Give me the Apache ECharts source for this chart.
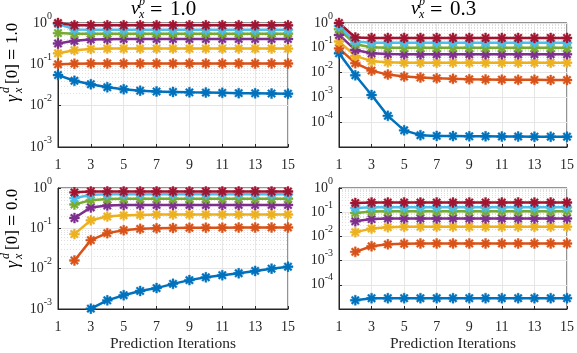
<!DOCTYPE html>
<html>
<head>
<meta charset="utf-8">
<script src="https://cdn.jsdelivr.net/npm/echarts@6/dist/echarts.min.js"></script>
<style>
  html, body { margin: 0; padding: 0; background: #fff; }
  #chart { width: 577px; height: 353px; }
</style>
</head>
<body>
<div id="chart"></div>
<script>
// ===== data =====
const iterations = [1, 2, 3, 4, 5, 6, 7, 8, 9, 10, 11, 12, 13, 14, 15]

// v_x^p = 1.0, gamma = 1.0  (top left), one row per curve
const vp10_g10 = [
  [0.055, 0.040, 0.033, 0.028, 0.025, 0.023, 0.022, 0.0215, 0.021, 0.0207, 0.0204, 0.0201, 0.0199, 0.0197, 0.0195],
  [0.100, 0.104, 0.105, 0.105, 0.105, 0.105, 0.105, 0.105, 0.105, 0.105, 0.105, 0.105, 0.105, 0.105, 0.105],
  [0.185, 0.22, 0.235, 0.24, 0.24, 0.24, 0.24, 0.24, 0.24, 0.24, 0.24, 0.24, 0.24, 0.24, 0.24],
  [0.32, 0.37, 0.40, 0.405, 0.41, 0.41, 0.41, 0.41, 0.41, 0.41, 0.41, 0.41, 0.41, 0.41, 0.41],
  [0.57, 0.55, 0.55, 0.55, 0.55, 0.55, 0.55, 0.55, 0.55, 0.55, 0.55, 0.55, 0.55, 0.55, 0.55],
  [0.95, 0.70, 0.69, 0.69, 0.69, 0.69, 0.69, 0.69, 0.69, 0.69, 0.69, 0.69, 0.69, 0.69, 0.69],
  [1.00, 0.88, 0.88, 0.88, 0.88, 0.88, 0.88, 0.88, 0.88, 0.88, 0.88, 0.88, 0.88, 0.88, 0.88]
]

// v_x^p = 0.3, gamma = 1.0  (top right)
const vp03_g10 = [
  [0.060, 0.0078, 0.00125, 1.8e-4, 4.7e-5, 3.0e-5, 2.8e-5, 2.75e-5, 2.7e-5, 2.7e-5, 2.65e-5, 2.65e-5, 2.6e-5, 2.6e-5, 2.6e-5],
  [0.095, 0.024, 0.012, 0.0083, 0.0069, 0.0063, 0.0059, 0.0056, 0.0054, 0.0053, 0.0052, 0.0051, 0.0051, 0.0050, 0.0050],
  [0.18, 0.047, 0.029, 0.026, 0.025, 0.025, 0.025, 0.025, 0.025, 0.025, 0.025, 0.025, 0.025, 0.025, 0.025],
  [0.33, 0.082, 0.060, 0.056, 0.055, 0.055, 0.055, 0.055, 0.055, 0.055, 0.055, 0.055, 0.055, 0.055, 0.055],
  [0.56, 0.14, 0.105, 0.10, 0.10, 0.10, 0.10, 0.10, 0.10, 0.10, 0.10, 0.10, 0.10, 0.10, 0.10],
  [0.75, 0.18, 0.16, 0.16, 0.16, 0.16, 0.16, 0.16, 0.16, 0.16, 0.16, 0.16, 0.16, 0.16, 0.16],
  [1.00, 0.26, 0.25, 0.25, 0.25, 0.25, 0.25, 0.25, 0.25, 0.25, 0.25, 0.25, 0.25, 0.25, 0.25]
]

// v_x^p = 1.0, gamma = 0.0  (bottom left)
const vp10_g00 = [
  [null, null, 0.00102, 0.00164, 0.0022, 0.0028, 0.0033, 0.0042, 0.0052, 0.0061, 0.0069, 0.0077, 0.0088, 0.0100, 0.0112],
  [null, 0.016, 0.051, 0.076, 0.090, 0.097, 0.100, 0.102, 0.103, 0.104, 0.104, 0.105, 0.105, 0.105, 0.105],
  [null, 0.072, 0.158, 0.196, 0.21, 0.215, 0.22, 0.22, 0.22, 0.22, 0.22, 0.22, 0.22, 0.22, 0.22],
  [null, 0.18, 0.33, 0.37, 0.38, 0.38, 0.38, 0.38, 0.38, 0.38, 0.38, 0.38, 0.38, 0.38, 0.38],
  [null, 0.39, 0.50, 0.53, 0.54, 0.54, 0.54, 0.54, 0.54, 0.54, 0.54, 0.54, 0.54, 0.54, 0.54],
  [null, 0.56, 0.68, 0.70, 0.70, 0.70, 0.70, 0.70, 0.70, 0.70, 0.70, 0.70, 0.70, 0.70, 0.70],
  [null, 0.78, 0.82, 0.82, 0.82, 0.82, 0.82, 0.82, 0.82, 0.82, 0.82, 0.82, 0.82, 0.82, 0.82]
]

// v_x^p = 0.3, gamma = 0.0  (bottom right)
const vp03_g00 = [
  [null, 2.3e-5, 2.8e-5, 2.8e-5, 2.8e-5, 2.8e-5, 2.8e-5, 2.8e-5, 2.8e-5, 2.8e-5, 2.8e-5, 2.8e-5, 2.8e-5, 2.8e-5, 2.8e-5],
  [null, 0.0023, 0.0039, 0.0047, 0.0050, 0.0051, 0.0051, 0.0051, 0.0051, 0.0051, 0.0051, 0.0051, 0.0051, 0.0051, 0.0051],
  [null, 0.015, 0.021, 0.024, 0.025, 0.025, 0.025, 0.025, 0.025, 0.025, 0.025, 0.025, 0.025, 0.025, 0.025],
  [null, 0.042, 0.052, 0.055, 0.055, 0.055, 0.055, 0.055, 0.055, 0.055, 0.055, 0.055, 0.055, 0.055, 0.055],
  [null, 0.093, 0.108, 0.11, 0.11, 0.11, 0.11, 0.11, 0.11, 0.11, 0.11, 0.11, 0.11, 0.11, 0.11],
  [null, 0.15, 0.16, 0.16, 0.16, 0.16, 0.16, 0.16, 0.16, 0.16, 0.16, 0.16, 0.16, 0.16, 0.16],
  [null, 0.24, 0.25, 0.25, 0.25, 0.25, 0.25, 0.25, 0.25, 0.25, 0.25, 0.25, 0.25, 0.25, 0.25]
]

const panelData = [vp10_g10, vp03_g10, vp10_g00, vp03_g00]
const yMinExp = [-3, -5, -3, -5]   // lower limit 10^n per panel
const colTitles = ['1.0', '0.3']
const rowTitles = ['1.0', '0.0']
const minorMantissa = [2, 3, 4, 5, 6, 7, 8, 9]

// ===== style =====
const colors = ['#0072BD', '#D95319', '#EDB120', '#7E2F8E', '#77AC30', '#4DBEEE', '#A2142F']
const FONT = 'Liberation Serif'
const INK = '#262626'

// 8-armed asterisk outline (one polygon so nothing overlaps)
function asteriskPath(w) {
  const pts = []
  const rIn = w / Math.sin(Math.PI / 8)
  for (let k = 0; k < 8; k++) {
    const a = k * Math.PI / 4
    const dx = Math.cos(a), dy = Math.sin(a)
    pts.push([5 * dx + w * dy, 5 * dy - w * dx])
    pts.push([5 * dx - w * dy, 5 * dy + w * dx])
    const b = a + Math.PI / 8
    pts.push([rIn * Math.cos(b), rIn * Math.sin(b)])
  }
  return 'path://M' + pts.map(p => (p[0] + 5).toFixed(2) + ' ' + (p[1] + 5).toFixed(2)).join('L') + 'Z'
}
const asterisk = asteriskPath(0.95)

const grids = [
  { left: 58, top: 23, width: 230, height: 124 },
  { left: 339, top: 23, width: 229, height: 124 },
  { left: 58, top: 188, width: 230, height: 126 },
  { left: 339, top: 188, width: 229, height: 126 }
].map(g => ({ ...g, show: true, borderColor: INK, borderWidth: 1, backgroundColor: 'transparent' }))

const xAxes = grids.map((g, i) => ({
  type: 'value', gridIndex: i, min: 1, max: 15, interval: 2,
  name: i >= 2 ? 'Prediction Iterations' : '',
  nameLocation: 'middle', nameGap: 27,
  nameTextStyle: { fontFamily: FONT, fontSize: 15.5, color: INK },
  axisLine: { lineStyle: { color: INK } },
  axisTick: { inside: true, length: 3, lineStyle: { color: INK } },
  axisLabel: { fontFamily: FONT, fontSize: 14, color: INK, margin: 11 },
  splitLine: { show: true, lineStyle: { color: '#e6e6e6' } }
}))

const yAxes = grids.map((g, i) => ({
  type: 'log', logBase: 10, gridIndex: i,
  min: Math.pow(10, yMinExp[i]), max: 1,
  splitNumber: -yMinExp[i],
  axisLine: { show: true, lineStyle: { color: INK } },
  axisTick: { inside: true, length: 3, lineStyle: { color: INK } },
  axisLabel: {
    margin: 6,
    showMinLabel: yMinExp[i] === -3,
    formatter: v => '{b|10}{s|' + Math.round(Math.log10(v)) + '}',
    rich: {
      b: { fontFamily: FONT, fontSize: 14, color: INK, lineHeight: 24 },
      s: { fontFamily: FONT, fontSize: 10, color: INK, lineHeight: 12, verticalAlign: 'top' }
    }
  },
  splitLine: { show: true, lineStyle: { color: '#e6e6e6' } }
}))

const series = []
panelData.forEach((rows, p) => {
  // dotted minor grid at 2..9 x 10^k, kept underneath the curves
  const minor = []
  for (let k = yMinExp[p]; k < 0; k++) {
    minorMantissa.forEach(m => minor.push({ yAxis: m * Math.pow(10, k) }))
  }
  series.push({
    type: 'line', xAxisIndex: p, yAxisIndex: p, data: [], z: 0, silent: true,
    markLine: {
      z: 0, silent: true, symbol: ['none', 'none'], animation: false,
      label: { show: false },
      lineStyle: { color: '#e0e0e0', type: [1, 2], width: 1 },
      data: minor
    }
  })
  rows.forEach((row, r) => {
    series.push({
      type: 'line', xAxisIndex: p, yAxisIndex: p, z: 3,
      data: iterations.map((x, j) => [x, row[j] == null ? '-' : row[j]]),
      symbol: asterisk, symbolSize: 10,
      lineStyle: { color: colors[r], width: 2.5 },
      itemStyle: { color: colors[r], borderColor: colors[r], borderWidth: 0.4 },
      emphasis: { disabled: true }
    })
  })
})

// LaTeX-ish labels built from pieces
function piece(t, dx, dy, size, italic) {
  return {
    type: 'text', x: dx, y: dy,
    style: {
      text: t, fill: '#000', align: 'left', verticalAlign: 'middle',
      font: (italic ? 'italic ' : '') + size + 'px ' + FONT
    }
  }
}
function vLabel(val, x, y) {
  return {
    type: 'group', x: x, y: y,
    children: [
      piece('v', 0, 0, 19, true),
      piece('p', 8, -7, 12, true),
      piece('x', 8, 6, 12, true),
      piece('=', 19, 1, 22, false),
      piece(val, 39, 0, 21, false)
    ]
  }
}
function gLabel(val, x, y) {
  return {
    type: 'group', x: x, y: y, rotation: Math.PI / 2,
    children: [
      piece('\u03b3', 0, 0, 18, true),
      piece('d', 9, -7, 12, true),
      piece('x', 9, 6, 12, true),
      piece('[0]', 18, 0, 17, false),
      piece('=', 42, 1, 20, false),
      piece(val, 58, 0, 17, false)
    ]
  }
}

const chart = echarts.init(document.getElementById('chart'))
chart.setOption({
  animation: false,
  backgroundColor: '#fff',
  grid: grids,
  xAxis: xAxes,
  yAxis: yAxes,
  series: series,
  graphic: [
    vLabel(colTitles[0], 131, 9),
    vLabel(colTitles[1], 411, 9),
    gLabel(rowTitles[0], 13, 102),
    gLabel(rowTitles[1], 13, 268)
  ]
})
</script>
</body>
</html>
